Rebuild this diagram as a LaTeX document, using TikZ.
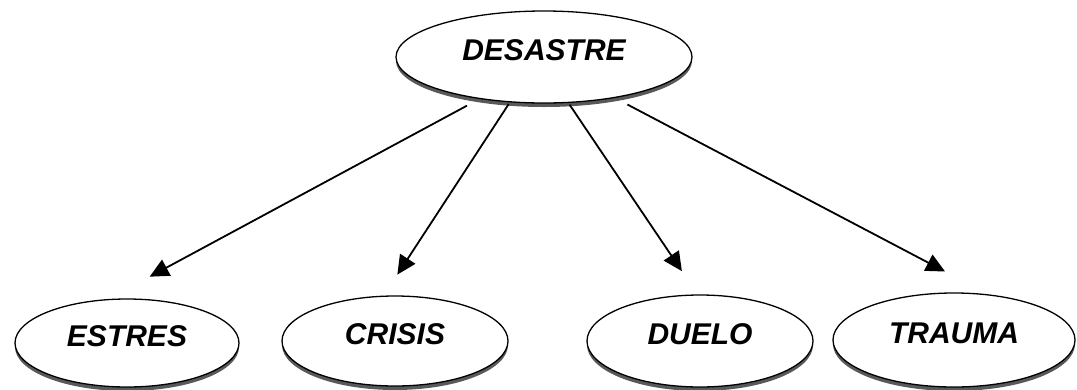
\documentclass[tikz,border=0pt]{standalone}
\usepackage{fontspec}
\setmainfont{Liberation Sans}
\usetikzlibrary{shapes.geometric,arrows.meta,shadows}
\tikzset{
  oval/.style={ellipse, draw=black, line width=1.3pt, fill=white, inner sep=0pt,
    text depth=14pt,
    font=\fontsize{30}{36}\selectfont\bfseries\itshape,
    drop shadow={shadow xshift=0pt, shadow yshift=-4pt, fill=black!65, opacity=1}},
  arr/.style={line width=1.8pt, -{Triangle[length=19pt,width=18pt]}}
}
\begin{document}
\begin{tikzpicture}[x=1pt,y=-1pt]
\useasboundingbox (0,0) rectangle (1077,389);
\node[oval, minimum width=296pt, minimum height=92pt] (d) at (544,57) {DESASTRE};
\node[oval, minimum width=224pt, minimum height=88pt] (e) at (127,343) {ESTRES};
\node[oval, minimum width=226pt, minimum height=90pt] (c) at (395,341) {CRISIS};
\node[oval, minimum width=226pt, minimum height=92pt] (u) at (700,341) {DUELO};
\node[oval, minimum width=242pt, minimum height=94pt] (t) at (954,340) {TRAUMA};
\draw[arr, shorten <=14pt, shorten >=47pt] (d.213) -- (e.113);
\draw[arr, shorten <=2pt, shorten >=25pt] (d.233) -- (c.104);
\draw[arr, shorten <=2pt, shorten >=28pt] (d.298) -- (u.93);
\draw[arr, shorten <=14pt, shorten >=49pt] (d.330) -- (t.53);
\end{tikzpicture}
\end{document}
